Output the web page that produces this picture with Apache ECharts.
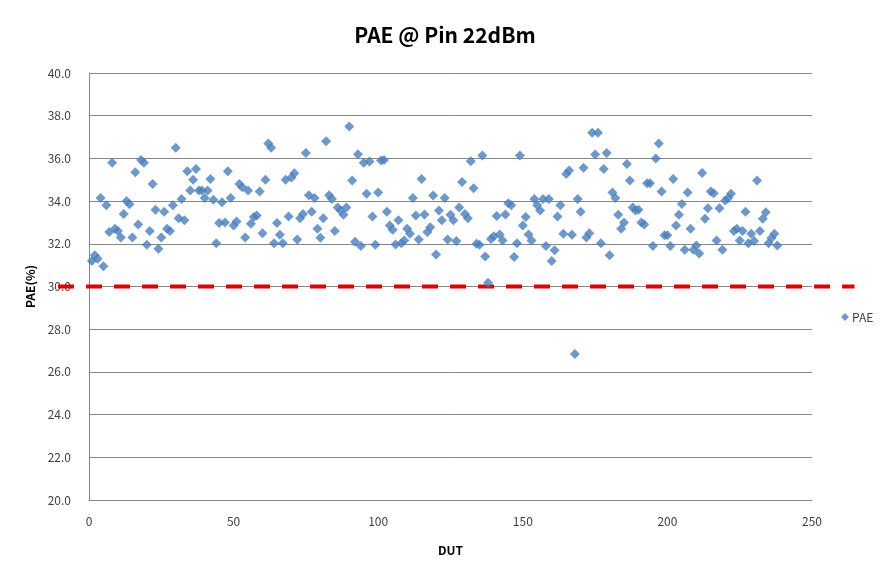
<!DOCTYPE html>
<html>
<head>
<meta charset="utf-8">
<script src="https://cdn.jsdelivr.net/npm/echarts@6/dist/echarts.min.js"></script>
<style>
  html, body { margin: 0; padding: 0; background: #ffffff; }
  #chart { width: 890px; height: 578px; }
</style>
</head>
<body>
<div id="chart"></div>
<script>
// ---- Data ----
const chartTitle = 'PAE @ Pin 22dBm';
const seriesName = 'PAE';
const xAxisName = 'DUT';
const yAxisName = 'PAE(%)';
const xTicks = [0, 50, 100, 150, 200, 250];
const yTicks = [20, 22, 24, 26, 28, 30, 32, 34, 36, 38, 40];
const specLimit = 30.0;

// PAE (%) per DUT, in DUT order (DUT 1 .. N)
const pae = [
  31.2, 31.46, 31.3, 34.15, 30.95, 33.8, 32.55, 35.8, 32.7, 32.6,
  32.3, 33.4, 34.0, 33.85, 32.3, 35.35, 32.9, 35.93, 35.8, 31.95,
  32.6, 34.8, 33.6, 31.77, 32.3, 33.5, 32.7, 32.6, 33.8, 36.5,
  33.2, 34.1, 33.1, 35.4, 34.5, 35.0, 35.5, 34.5, 34.5, 34.15,
  34.5, 35.04, 34.06, 32.03, 32.97, 33.95, 33.0, 35.4, 34.15, 32.86,
  33.05, 34.8, 34.65, 32.3, 34.5, 32.94, 33.25, 33.33, 34.45, 32.5,
  35.0, 36.7, 36.5, 32.03, 32.97, 32.42, 32.03, 35.0, 33.28, 35.1,
  35.3, 32.2, 33.2, 33.4, 36.25, 34.27, 33.5, 34.15, 32.7,
  32.28, 33.2, 36.8, 34.27, 34.1, 32.6, 33.7, 33.56, 33.36, 33.7,
  37.5, 34.96, 32.1, 36.2, 31.9, 35.8, 34.34, 35.85, 33.28, 31.95,
  34.4, 35.9, 35.93, 33.5, 32.86, 32.66, 31.97, 33.1, 32.03, 32.15,
  32.7, 32.47, 34.15, 33.33, 32.2, 35.04, 33.37, 32.55, 32.78,
  34.26, 31.5, 33.56, 33.1, 34.15, 32.2, 33.36, 33.1, 32.13, 33.7,
  34.9, 33.4, 33.2, 35.87, 34.6, 32.0, 31.95, 36.13, 31.4, 30.18,
  32.23, 32.35, 33.3, 32.44, 32.16, 33.37, 33.9, 33.8, 31.38, 32.03,
  36.13, 32.86, 33.25, 32.44, 32.16, 34.1, 33.8, 33.56, 34.1, 31.9,
  34.1, 31.2,
  31.7, 33.28, 33.8, 32.47, 35.27, 35.43, 32.42, 26.84, 34.1, 33.5,
  35.56, 32.3, 32.5, 37.2, 36.18, 37.2, 32.03, 35.5, 36.25, 31.46,
  34.4, 34.15, 33.36, 32.7, 33.0, 35.74, 34.96, 33.7, 33.56, 33.6,
  33.0, 32.9, 34.84, 34.84, 31.9, 36.0, 36.7, 34.45, 32.4, 32.4,
  31.9, 35.04, 32.86, 33.36, 33.87, 31.72, 34.4, 32.7, 31.72, 31.92,
  31.54, 35.32, 33.17, 33.67, 34.45, 34.37, 32.16, 33.67, 31.72, 34.03,
  34.15, 34.34, 32.6, 32.7, 32.16, 32.6, 33.5, 32.03, 32.47, 32.13,
  34.96, 32.6, 33.17, 33.48, 32.03, 32.27, 32.47, 31.92
];

// ---- Chart ----
const chart = echarts.init(document.getElementById('chart'), null, { renderer: 'canvas' });

const points = pae.map((v, i) => [i + 1, v]);

const gridColor = '#868686';
const labelColor = '#404040';
const font = "'Noto Sans CJK KR', 'Noto Sans', sans-serif";

chart.setOption({
  animation: false,
  backgroundColor: '#ffffff',
  title: {
    text: chartTitle,
    left: 'center',
    top: 20,
    textStyle: { fontFamily: font, fontSize: 21, fontWeight: 'bold', color: '#000000' }
  },
  legend: {
    data: [{ name: seriesName, icon: 'diamond' }],
    left: 836,
    top: 306,
    itemWidth: 8,
    itemHeight: 8,
    itemGap: 4,
    textStyle: { fontFamily: font, fontSize: 12, color: labelColor, padding: [0, 0, 0, -2] }
  },
  grid: { left: 89, right: 78, top: 73, bottom: 78, containLabel: false },
  xAxis: {
    type: 'value',
    min: xTicks[0],
    max: xTicks[xTicks.length - 1],
    interval: xTicks[1] - xTicks[0],
    name: xAxisName,
    nameLocation: 'middle',
    nameGap: 44,
    nameTextStyle: { fontFamily: font, fontSize: 12, fontWeight: 'bold', color: '#000000' },
    axisLine: { show: true, lineStyle: { color: gridColor, width: 1 } },
    axisTick: { show: false },
    splitLine: { show: false },
    axisLabel: { margin: 15, fontFamily: font, fontSize: 12, color: labelColor }
  },
  yAxis: {
    type: 'value',
    min: yTicks[0],
    max: yTicks[yTicks.length - 1],
    interval: yTicks[1] - yTicks[0],
    name: yAxisName,
    nameLocation: 'middle',
    nameGap: 52,
    nameRotate: 90,
    nameTextStyle: { fontFamily: font, fontSize: 12, fontWeight: 'bold', color: '#000000' },
    axisLine: { show: true, lineStyle: { color: gridColor, width: 1 } },
    axisTick: { show: false },
    splitLine: { show: true, lineStyle: { color: gridColor, width: 1 } },
    axisLabel: {
      margin: 18,
      fontFamily: font, fontSize: 12, color: labelColor,
      formatter: v => v.toFixed(1)
    }
  },
  series: [
    {
      name: seriesName,
      type: 'scatter',
      data: points,
      symbol: 'diamond',
      symbolSize: 10,
      z: 4,
      itemStyle: { color: '#4A7EBB' }
    }
  ]
});

// Spec-limit line (a drawn line in the original that runs a little past the plot
// area on both sides); its position comes from the chart's own scales.
const limitY = chart.convertToPixel({ yAxisIndex: 0 }, specLimit);
const limitX1 = chart.convertToPixel({ xAxisIndex: 0 }, -10.7);
const limitX2 = chart.convertToPixel({ xAxisIndex: 0 }, 264.7);
chart.setOption({
  graphic: [{
    type: 'line',
    silent: true,
    z: 1,
    shape: { x1: limitX1, y1: limitY, x2: limitX2, y2: limitY },
    style: { stroke: '#E00000', lineWidth: 4, lineDash: [16, 12] }
  }]
});
</script>
</body>
</html>
